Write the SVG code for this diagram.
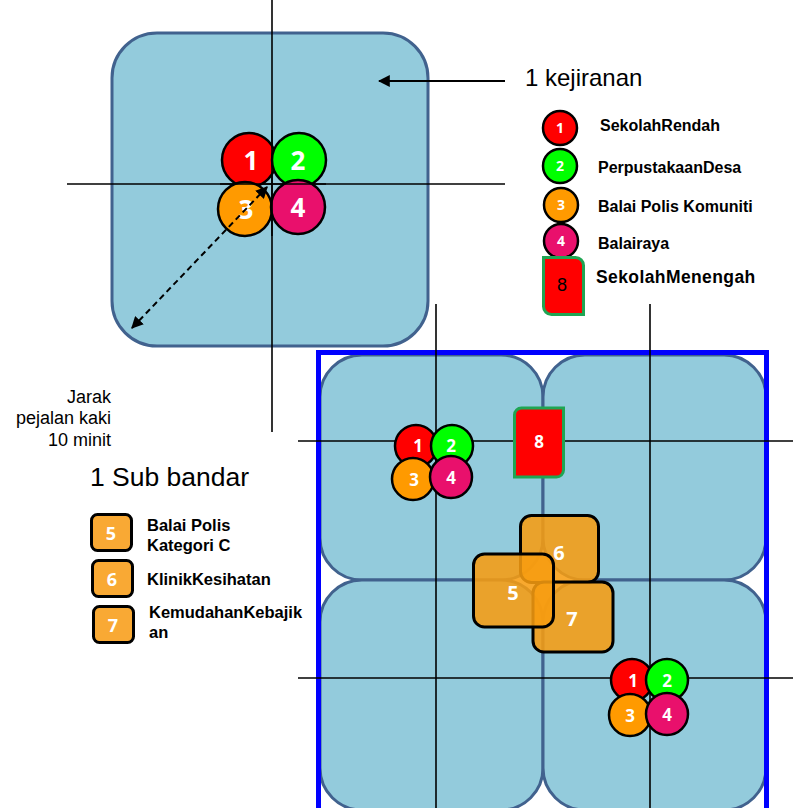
<svg xmlns="http://www.w3.org/2000/svg" width="796" height="808" viewBox="0 0 796 808">
<defs>
<style>
.area{fill:#93cbdc;stroke:#41628e;stroke-width:3}
.ln{stroke:#000;stroke-width:1.6;fill:none}
.c{stroke:#000;stroke-width:2.5}
.r{fill:#ff0000}.g{fill:#00ff00}.o{fill:#ff9a00}.p{fill:#e9106c}
.n{font-family:"Open Sans","Liberation Sans",sans-serif;font-weight:bold;fill:#fff;text-anchor:middle}
.lbl{font-family:"Liberation Sans",Arial,sans-serif;fill:#000}
.b{font-weight:bold}
.ob{fill:#f79c10;fill-opacity:0.87;stroke:#000;stroke-width:3}
.lob{fill:#f9a934;stroke:#000;stroke-width:3}
.s8{fill:#ff0000;stroke:#1fa553;stroke-width:3}
</style>
<marker id="ah" viewBox="0 0 10 10" refX="9" refY="5" markerWidth="12" markerHeight="12" markerUnits="userSpaceOnUse" orient="auto-start-reverse"><path d="M0,0 L10,5 L0,10 z" fill="#000"/></marker>
<marker id="ah2" viewBox="0 0 10 10" refX="9" refY="5" markerWidth="12" markerHeight="12" markerUnits="userSpaceOnUse" orient="auto-start-reverse"><path d="M0,0 L10,5 L0,10 z" fill="#000"/></marker>
</defs>

<g id="kejiranan-area"><rect class="area" x="112" y="33" width="316" height="313" rx="45"/></g>

<g id="subbandar-area">
<rect class="area" x="320" y="355" width="223" height="225" rx="42"/>
<rect class="area" x="543" y="355" width="223" height="225" rx="42"/>
<rect class="area" x="320" y="580" width="223" height="230" rx="42"/>
<rect class="area" x="543" y="580" width="223" height="230" rx="42"/>
<rect x="318.5" y="352.5" width="448" height="470" fill="none" stroke="#0000ff" stroke-width="5"/>
</g>

<g id="connectors">
<line class="ln" x1="272" y1="0" x2="272" y2="432"/>
<line class="ln" x1="67" y1="184" x2="505" y2="184"/>
<line class="ln" x1="436" y1="304" x2="436" y2="808"/>
<line class="ln" x1="650" y1="304" x2="650" y2="808"/>
<line class="ln" x1="298" y1="441" x2="793" y2="441"/>
<line class="ln" x1="298" y1="678" x2="793" y2="678"/>
<line x1="505" y1="81" x2="379" y2="81" stroke="#000" stroke-width="2" marker-end="url(#ah2)"/>
</g>

<g id="cluster-top">
<circle class="c r" cx="249" cy="160" r="27"/>
<circle class="c g" cx="299" cy="160" r="27"/>
<circle class="c o" cx="245" cy="209" r="27"/>
<circle class="c p" cx="298" cy="207" r="27"/>
<line class="ln" x1="272" y1="130" x2="272" y2="236"/>
<line class="ln" x1="220" y1="184" x2="326" y2="184"/>
<text class="n" x="251" y="170" font-size="26">1</text>
<text class="n" x="298" y="170" font-size="26">2</text>
<text class="n" x="246" y="219" font-size="26">3</text>
<text class="n" x="298" y="217" font-size="26">4</text>
</g>

<g id="walk-distance-arrow">
<line x1="132" y1="328" x2="267" y2="187" stroke="#000" stroke-width="2" stroke-dasharray="6,4" marker-start="url(#ah)" marker-end="url(#ah)"/>
</g>

<g id="label-kejiranan"><text class="lbl" x="525" y="86" font-size="24">1 kejiranan</text></g>

<g id="legend-kejiranan">
<circle class="c r" cx="560" cy="128" r="17"/><text class="n" x="560" y="133" font-size="14">1</text>
<circle class="c g" cx="560" cy="166" r="17"/><text class="n" x="560" y="171" font-size="14">2</text>
<circle class="c o" cx="561" cy="205" r="17"/><text class="n" x="561" y="210" font-size="14">3</text>
<circle class="c p" cx="561" cy="241" r="17"/><text class="n" x="561" y="246" font-size="14">4</text>
<text class="lbl b" x="600" y="131" font-size="16">SekolahRendah</text>
<text class="lbl b" x="598" y="173" font-size="16">PerpustakaanDesa</text>
<text class="lbl b" x="598" y="212" font-size="16">Balai Polis Komuniti</text>
<text class="lbl b" x="598" y="249" font-size="16">Balairaya</text>
<path class="s8" d="M543.5,257.5 h32 a8,8 0 0 1 8,8 v49 h-32 a8,8 0 0 1 -8,-8 z"/>
<text class="lbl" x="562" y="291" font-size="18" text-anchor="middle" font-family="'Open Sans',sans-serif">8</text>
<text class="lbl b" x="596" y="283" font-size="17.5" letter-spacing="0.4">SekolahMenengah</text>
</g>

<g id="label-jarak" class="lbl" font-size="18" text-anchor="end">
<text x="111" y="403">Jarak</text>
<text x="111" y="424">pejalan kaki</text>
<text x="111" y="446">10 minit</text>
</g>

<g id="label-subbandar"><text class="lbl" x="90" y="486" font-size="26.5">1 Sub bandar</text></g>

<g id="legend-subbandar">
<rect class="lob" x="91.5" y="514.5" width="40" height="36" rx="6"/><text class="n" x="111" y="540" font-size="18">5</text>
<rect class="lob" x="92.5" y="560.5" width="40" height="36" rx="6"/><text class="n" x="112" y="586" font-size="18">6</text>
<rect class="lob" x="93.5" y="606.5" width="40" height="36" rx="6"/><text class="n" x="113" y="632" font-size="18">7</text>
<text class="lbl b" x="147" y="531" font-size="16.5">Balai Polis</text>
<text class="lbl b" x="147" y="551" font-size="16.5">Kategori C</text>
<text class="lbl b" x="147" y="585" font-size="16.5">KlinikKesihatan</text>
<text class="lbl b" x="149" y="618" font-size="16.5">KemudahanKebajik</text>
<text class="lbl b" x="149" y="638" font-size="16.5">an</text>
</g>

<g id="cluster-nw">
<circle class="c r" cx="416" cy="446" r="21"/>
<circle class="c g" cx="452" cy="446" r="21"/>
<circle class="c o" cx="413" cy="479" r="21"/>
<circle class="c p" cx="451" cy="477" r="21"/>
<text class="n" x="418" y="452" font-size="17">1</text>
<text class="n" x="451" y="452" font-size="17">2</text>
<text class="n" x="414" y="486" font-size="17">3</text>
<text class="n" x="451" y="484" font-size="17">4</text>
</g>

<g id="node-8"><path class="s8" d="M514.5,415 a7,7 0 0 1 7,-7 h42 v62 a7,7 0 0 1 -7,7 h-42 z"/><text class="n" x="539" y="448" font-size="17" font-weight="normal">8</text></g>

<g id="cluster-se">
<circle class="c r" cx="632" cy="680" r="21"/>
<circle class="c g" cx="667" cy="680" r="21"/>
<circle class="c o" cx="630" cy="715" r="21"/>
<circle class="c p" cx="667" cy="714" r="21"/>
<text class="n" x="633" y="687" font-size="17">1</text>
<text class="n" x="667" y="687" font-size="17">2</text>
<text class="n" x="630" y="722" font-size="17">3</text>
<text class="n" x="667" y="721" font-size="17">4</text>
</g>

<g id="node-6"><rect class="ob" x="520.5" y="515.5" width="78" height="67" rx="11"/><text class="n" x="559" y="560" font-size="20">6</text></g>
<g id="node-7"><rect class="ob" x="533" y="582" width="80" height="70" rx="11"/><text class="n" x="572" y="626" font-size="20">7</text></g>
<g id="node-5"><rect class="ob" x="473.5" y="554" width="80" height="73" rx="11"/><text class="n" x="513" y="600" font-size="20">5</text></g>
</svg>
